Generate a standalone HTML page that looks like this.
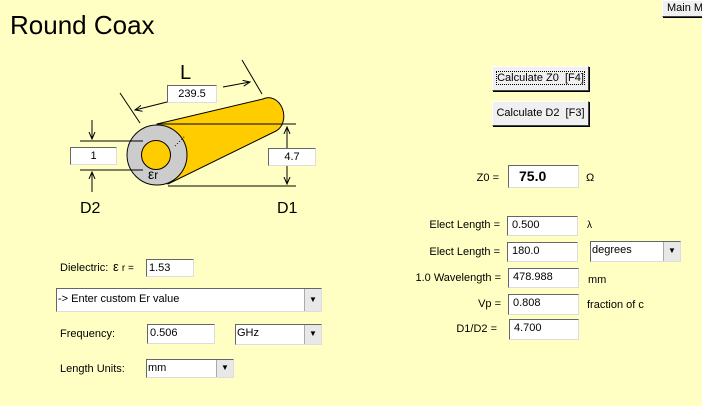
<!DOCTYPE html>
<html><head><style>
body{margin:0;width:702px;height:406px;background:#ffffc4;font-family:"Liberation Sans",sans-serif;position:relative;overflow:hidden}
.a{position:absolute;white-space:nowrap}
.t{font-size:11px;color:#000}
.r{text-align:right}
.box{position:absolute;background:#fff;border:1px solid #777;box-sizing:border-box;font-size:11px;padding:2px 0 0 4px;border-right-color:#ddd;border-bottom-color:#ddd;border-top-color:#666;border-left-color:#666;white-space:nowrap}
.btn{position:absolute;background:#f0f0f0;border:1px solid #fff;border-right-color:#444;border-bottom-color:#444;box-sizing:border-box;font-size:11px;text-align:center;box-shadow:1px 1px 0 #000;white-space:nowrap}
.dd{position:absolute;background:#fff;border:1px solid #666;border-right-color:#ddd;border-bottom-color:#ddd;box-sizing:border-box;font-size:11px;padding:2px 0 0 1px;white-space:nowrap}
.dd b{position:absolute;right:0;top:0;bottom:0;width:16px;background:#e8e8e8;border-left:1px solid #aaa;font-weight:normal;font-size:8px;text-align:center;line-height:17px}
</style></head><body>
<div class="a" style="left:10px;top:10px;font-size:26px">Round Coax</div>
<div class="btn" style="left:662px;top:0;width:44px;height:17px;font-size:11px;text-align:left;padding:1px 0 0 4px">Main M</div>

<svg class="a" style="left:0;top:0" width="340" height="230">
<defs><marker id="ar" markerWidth="8" markerHeight="8" refX="7" refY="4" orient="auto"><path d="M0,1 L7,4 L0,7" fill="none" stroke="#000"/></marker></defs>
<path d="M157,124 L263,99 A13,16 -10 0 1 276,131 L168,184 Z" fill="#ffcc00" stroke="#000"/>
<circle cx="157" cy="155" r="30" fill="#cccccc" stroke="#000"/>
<circle cx="156" cy="155" r="14.5" fill="#ffcc00" stroke="#000"/>
<line x1="157" y1="124" x2="296" y2="124" stroke="#000"/>
<line x1="168" y1="186" x2="296" y2="186" stroke="#000"/>
<line x1="287" y1="148" x2="287" y2="127" stroke="#000" marker-end="url(#ar)"/>
<line x1="287" y1="165" x2="287" y2="184" stroke="#000" marker-end="url(#ar)"/>
<line x1="80" y1="141" x2="143" y2="141" stroke="#000"/>
<line x1="80" y1="170" x2="143" y2="170" stroke="#000"/>
<line x1="92" y1="120" x2="92" y2="139" stroke="#000" marker-end="url(#ar)"/>
<line x1="92" y1="192" x2="92" y2="172" stroke="#000" marker-end="url(#ar)"/>
<line x1="120" y1="93" x2="140" y2="123" stroke="#000"/>
<line x1="242" y1="60" x2="262" y2="94" stroke="#000"/>
<line x1="167" y1="102" x2="135" y2="110" stroke="#000" marker-end="url(#ar)"/>
<line x1="223" y1="87" x2="250" y2="82" stroke="#000" marker-end="url(#ar)"/>
<line x1="175" y1="146" x2="185" y2="136" stroke="#000" stroke-dasharray="1,2"/>
</svg>
<div class="a" style="left:180px;top:62px;font-size:20px">L</div>
<div class="box" style="left:167px;top:85px;width:50px;height:18px;text-align:center;padding-left:0">239.5</div>
<div class="box" style="left:70px;top:147px;width:47px;height:18px;text-align:center;padding-left:0">1</div>
<div class="box" style="left:268px;top:148px;width:48px;height:18px;text-align:center;padding-left:0">4.7</div>
<div class="a" style="left:148px;top:166px;font-size:14px">ε<span style="font-size:12px">r</span></div>
<div class="a" style="left:80px;top:200px;font-size:16px">D2</div>
<div class="a" style="left:277px;top:200px;font-size:16px">D1</div>

<div class="btn" style="left:492px;top:66px;width:97px;height:25px;line-height:22px"><span style="outline:1px dotted #000">Calculate Z0 &nbsp;[F4]</span></div>
<div class="btn" style="left:492px;top:101px;width:97px;height:25px;line-height:23px">Calculate D2 &nbsp;[F3]</div>

<div class="a t r" style="left:400px;width:99px;top:172px">Z0 =</div>
<div class="box" style="left:508px;top:165px;width:71px;height:23px;font-weight:bold;font-size:14px;padding:2px 0 0 10px">75.0</div>
<div class="a t" style="left:586px;top:172px">Ω</div>

<div class="a t r" style="left:400px;width:100px;top:219px">Elect Length =</div>
<div class="box" style="left:507px;top:216px;width:71px;height:20px">0.500</div>
<div class="a t" style="left:587px;top:220px;font-size:10px">λ</div>
<div class="a t r" style="left:400px;width:100px;top:246px">Elect Length =</div>
<div class="box" style="left:507px;top:242px;width:71px;height:20px">180.0</div>
<div class="dd" style="left:590px;top:241px;width:91px;height:21px">degrees<b>▼</b></div>
<div class="a t r" style="left:380px;width:121px;top:272px">1.0 Wavelength =</div>
<div class="box" style="left:508px;top:268px;width:71px;height:20px">478.988</div>
<div class="a t" style="left:588px;top:274px">mm</div>
<div class="a t r" style="left:400px;width:101px;top:298px">Vp =</div>
<div class="box" style="left:508px;top:294px;width:71px;height:21px">0.808</div>
<div class="a t" style="left:587px;top:299px">fraction of c</div>
<div class="a t r" style="left:400px;width:97px;top:323px">D1/D2 =</div>
<div class="box" style="left:509px;top:319px;width:70px;height:21px">4.700</div>

<div class="a t" style="left:60px;top:262px">Dielectric:</div>
<div class="a t" style="left:113px;top:259px"><span style="font-size:13px">ε</span> <span style="font-size:10px">r =</span></div>
<div class="box" style="left:146px;top:259px;width:48px;height:18px;padding-left:2px">1.53</div>
<div class="dd" style="left:56px;top:288px;width:266px;height:24px;padding-top:4px">-&gt; Enter custom Er value<b style="line-height:22px">▼</b></div>
<div class="a t" style="left:60px;top:328px">Frequency:</div>
<div class="box" style="left:147px;top:324px;width:68px;height:20px;padding-left:2px">0.506</div>
<div class="dd" style="left:235px;top:324px;width:87px;height:21px">GHz<b>▼</b></div>
<div class="a t" style="left:60px;top:363px">Length Units:</div>
<div class="dd" style="left:146px;top:359px;width:88px;height:19px">mm<b style="line-height:16px">▼</b></div>
</body></html>
